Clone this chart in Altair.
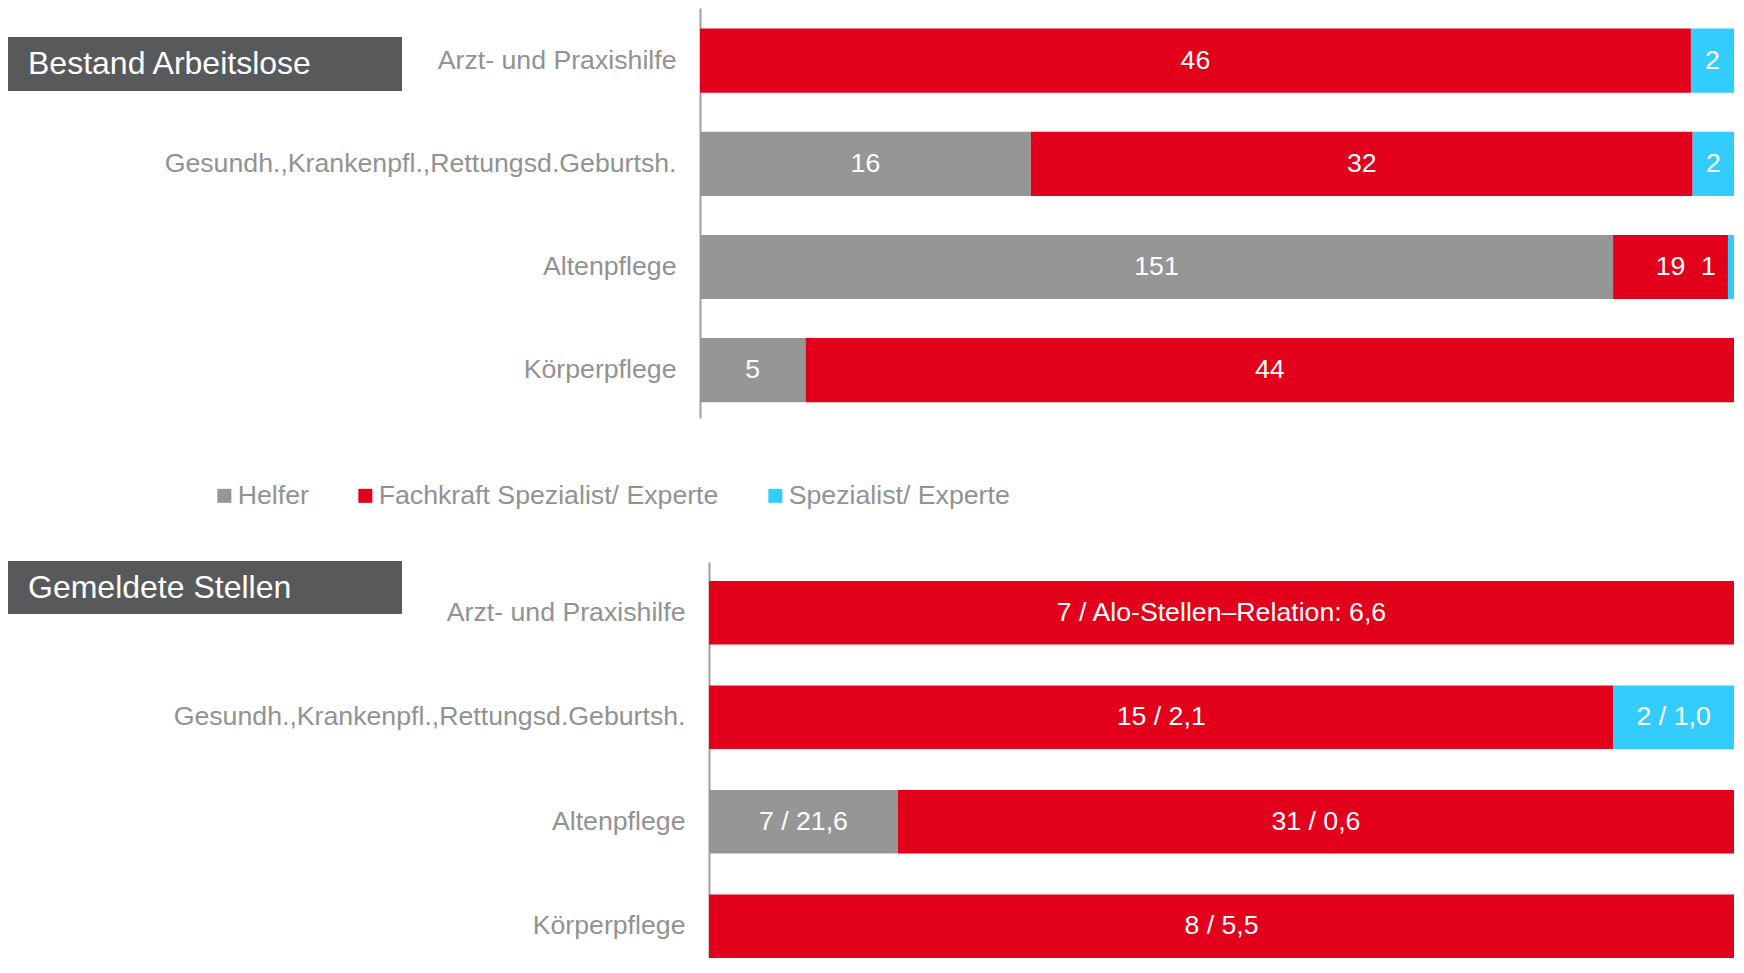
import altair as alt
import pandas as pd

categories = ["Arzt- und Praxishilfe", "Gesundh.,Krankenpfl.,Rettungsd.Geburtsh.", "Altenpflege", "Körperpflege"]
levels = ["Helfer", "Fachkraft Spezialist/ Experte", "Spezialist/ Experte"]
level_colors = ["#969696", "#E2001A", "#33CCFF"]

# Bestand Arbeitslose
bestand_helfer = [0, 16, 151, 5]
bestand_fachkraft = [46, 32, 19, 44]
bestand_spezialist = [2, 2, 1, 0]

# Gemeldete Stellen (count) and Alo-Stellen-Relation
stellen_helfer = [0, 0, 7, 0]
stellen_fachkraft = [7, 15, 31, 8]
stellen_spezialist = [0, 2, 0, 0]
relation_helfer = [None, None, 21.6, None]
relation_fachkraft = [6.6, 2.1, 0.6, 5.5]
relation_spezialist = [None, 1.0, None, None]

panel_titles = ["Bestand Arbeitslose", "Gemeldete Stellen"]

FONT = "Liberation Sans"
LABEL_GRAY = "#929292"
FS = 26.7
W = 1034


def fmt(v):
    return f"{v:.1f}".replace(".", ",")


rows_b = []
for i, c in enumerate(categories):
    for j, (lv, arr) in enumerate(zip(levels, [bestand_helfer, bestand_fachkraft, bestand_spezialist])):
        rows_b.append({"cat": c, "level": lv, "order": j, "count": arr[i], "label": str(arr[i])})
df_b = pd.DataFrame(rows_b)

rows_s = []
for i, c in enumerate(categories):
    for j, (lv, arr, rel) in enumerate(zip(levels,
                                           [stellen_helfer, stellen_fachkraft, stellen_spezialist],
                                           [relation_helfer, relation_fachkraft, relation_spezialist])):
        n = arr[i]
        if n > 0:
            if i == 0 and j == 1:
                lab = f"{n} / Alo-Stellen\u2013Relation: {fmt(rel[i])}"
            else:
                lab = f"{n} / {fmt(rel[i])}"
        else:
            lab = ""
        rows_s.append({"cat": c, "level": lv, "order": j, "count": n, "label": lab})
df_s = pd.DataFrame(rows_s)

legend = alt.Legend(title=None, orient="none", legendX=-489, legendY=474, direction="horizontal",
                    symbolType="square", symbolSize=196, symbolStrokeWidth=0,
                    labelFontSize=FS, labelColor=LABEL_GRAY, labelFont=FONT,
                    columnPadding=43, labelOffset=0, labelLimit=600)


def panel(df, title, width, height, y_scale, x_range, axis_offset, box_y, box_y2, text_y):
    base = (alt.Chart(df)
            .transform_filter("datum.count > 0")
            .transform_stack(stack="count", groupby=["cat"], as_=["x0", "x1"], offset="normalize",
                             sort=[alt.SortField("order", "ascending")])
            .transform_calculate(mid="(datum.x0 + datum.x1) / 2", w="datum.x1 - datum.x0"))
    xs = alt.Scale(domain=[0, 1], nice=False, zero=False, range=x_range)
    y = alt.Y("cat:N", sort=categories, scale=y_scale,
              axis=alt.Axis(title=None, labelFontSize=FS, labelColor=LABEL_GRAY, labelFont=FONT,
                            labelPadding=24, ticks=False, domainColor="#A0A0A0", domainWidth=2,
                            labelLimit=800, offset=axis_offset, grid=False))
    col = alt.Color("level:N", scale=alt.Scale(domain=levels, range=level_colors), legend=legend)
    bars = base.mark_bar(strokeWidth=0).encode(
        x=alt.X("x0:Q", scale=xs, axis=None),
        x2="x1:Q",
        y=y,
        color=col,
    )
    txt = base.transform_filter("datum.w >= 0.02").mark_text(
        color="white", fontSize=FS, font=FONT, align="center", baseline="middle"
    ).encode(x=alt.X("mid:Q", scale=xs, axis=None), y=alt.Y("cat:N", sort=categories), text="label:N")
    small = base.transform_filter("datum.w < 0.02").mark_text(
        color="white", fontSize=FS, font=FONT, align="right", baseline="middle", dx=-12
    ).encode(x=alt.X("x0:Q", scale=xs, axis=None), y=alt.Y("cat:N", sort=categories), text="label:N")
    tdata = alt.Data(values=[{"t": title}])
    box = alt.Chart(tdata).mark_rect(color="#58595B").encode(
        x=alt.value(-692), x2=alt.value(-298), y=alt.value(box_y), y2=alt.value(box_y2))
    ttxt = alt.Chart(tdata).mark_text(
        color="white", fontSize=32, font=FONT, align="left", baseline="middle"
    ).encode(x=alt.value(-672), y=alt.value(text_y), text="t:N")
    return alt.layer(bars, txt, small, box, ttxt).properties(width=width, height=height)


top = panel(df_b, panel_titles[0], W, 410,
            alt.Scale(paddingInner=0.378, paddingOuter=0.175, align=0.566),
            [0, W], 0, 29, 83, 56)
bottom = panel(df_s, panel_titles[1], W, 396,
               alt.Scale(paddingInner=0.392, paddingOuter=0.0909, align=1.0),
               [9, W], -9, -1, 52, 26)

chart = (alt.vconcat(top, bottom, spacing=143)
         .properties(padding=0)
         .configure(font=FONT)
         .configure_view(strokeWidth=0, stroke="transparent"))

chart.save("out.html", embed_options={"renderer": "svg", "actions": False})
